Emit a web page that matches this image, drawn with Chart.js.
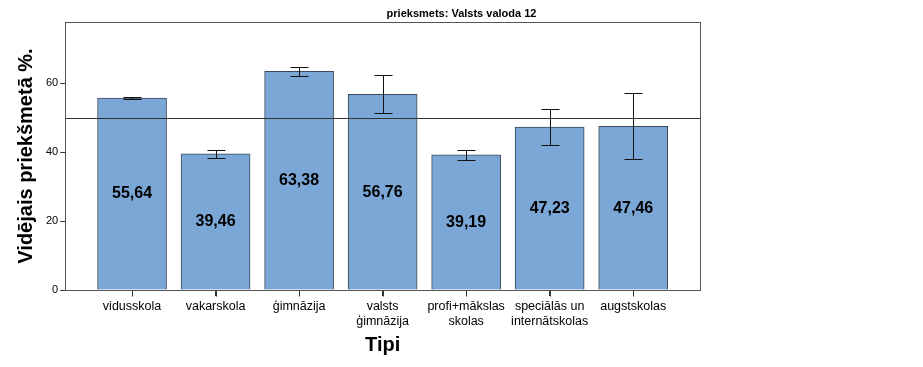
<!DOCTYPE html>
<html><head><meta charset="utf-8">
<script src="https://cdn.jsdelivr.net/npm/chart.js@4/dist/chart.umd.min.js"></script>
<style>html,body{margin:0;padding:0;background:#fff;}#wrap{width:923px;height:367px;}</style>
</head><body><div id="wrap"><canvas id="c" width="923" height="367"></canvas></div>
<script>
const categories = ['vidusskola','vakarskola','ģimnāzija',['valsts','ģimnāzija'],['profi+mākslas','skolas'],['speciālās un','internātskolas'],'augstskolas'];
const means = [55.64, 39.46, 63.38, 56.76, 39.19, 47.23, 47.46];
const errLow = [55.3, 38.35, 62.0, 51.2, 37.8, 41.9, 37.9];
const errHigh = [56.0, 40.65, 64.75, 62.3, 40.6, 52.6, 57.1];
const meanLabels = ['55,64','39,46','63,38','56,76','39,19','47,23','47,46'];
const yTicks = [0, 20, 40, 60];
const refValue = 50;
const chartTitle = 'prieksmets: Valsts valoda 12';

const extras = {
  id: 'extras',
  afterDatasetsDraw(chart) {
    const ctx = chart.ctx, a = chart.chartArea, x = chart.scales.x, y = chart.scales.y;
    ctx.save();
    // x tick marks
    ctx.strokeStyle = '#333'; ctx.lineWidth = 1;
    const by = Math.round(a.bottom) + 0.5;
    categories.forEach((c, i) => {
      const px = Math.round(x.getPixelForValue(i)) + 0.5;
      ctx.beginPath(); ctx.moveTo(px, by); ctx.lineTo(px, by + 6); ctx.stroke();
    });
    // error bars
    ctx.strokeStyle = '#111';
    means.forEach((m, i) => {
      const px = Math.round(x.getPixelForValue(i)) + 0.5;
      const yl = Math.round(y.getPixelForValue(errLow[i])) + 0.5;
      const yh = Math.round(y.getPixelForValue(errHigh[i])) + 0.5;
      ctx.beginPath();
      ctx.moveTo(px, yl); ctx.lineTo(px, yh);
      ctx.moveTo(px - 9, yl); ctx.lineTo(px + 9, yl);
      ctx.moveTo(px - 9, yh); ctx.lineTo(px + 9, yh);
      ctx.stroke();
    });
    // reference line
    const ry = Math.round(y.getPixelForValue(refValue)) + 0.5;
    ctx.strokeStyle = '#333';
    ctx.beginPath(); ctx.moveTo(a.left, ry); ctx.lineTo(a.right, ry); ctx.stroke();
    // frame
    ctx.strokeStyle = '#555';
    ctx.strokeRect(Math.round(a.left) + 0.5, Math.round(a.top) + 0.5, Math.round(a.right - a.left), Math.round(a.bottom - a.top));
    // value labels
    ctx.fillStyle = '#000';
    ctx.font = 'bold 16px "Liberation Sans", Arial, sans-serif';
    ctx.textAlign = 'center'; ctx.textBaseline = 'middle';
    means.forEach((m, i) => {
      ctx.fillText(meanLabels[i], x.getPixelForValue(i), y.getPixelForValue(m / 2));
    });
    // title
    ctx.font = 'bold 11px "Liberation Sans", Arial, sans-serif';
    ctx.fillText(chartTitle, chart.width / 2, 14);
    ctx.restore();
  }
};

new Chart(document.getElementById('c'), {
  type: 'bar',
  data: {
    datasets: [{
      data: means.map((v, i) => ({x: i, y: v})),
      backgroundColor: '#7ba7d7',
      borderColor: '#3b4a5a',
      borderWidth: 1,
      barThickness: 69
    }]
  },
  options: {
    responsive: false,
    animation: false,
    layout: {padding: {left: 10, right: 223, top: 22, bottom: 5}},
    plugins: {
      legend: {display: false},
      tooltip: {enabled: false},
      title: {display: false}
    },
    scales: {
      x: {
        type: 'linear',
        min: -0.8, max: 6.8,
        offset: false,
        afterBuildTicks: (axis) => { axis.ticks = categories.map((_, i) => ({value: i})); },
        ticks: {
          callback: (v) => categories[v],
          color: '#000',
          font: {family: '"Liberation Sans", Arial, sans-serif', size: 12.5},
          maxRotation: 0, autoSkip: false, padding: 3
        },
        grid: {drawOnChartArea: false, drawTicks: true, tickLength: 6, color: '#333', offset: false},
        border: {display: true, color: '#333'},
        title: {
          display: true, text: 'Tipi', color: '#000',
          font: {family: '"Liberation Sans", Arial, sans-serif', size: 20, weight: 'bold'},
          padding: {top: 1, bottom: 5}
        }
      },
      y: {
        min: 0, max: 77.7,
        afterBuildTicks: (axis) => { axis.ticks = yTicks.map(v => ({value: v})); },
        ticks: {
          color: '#000',
          font: {family: '"Liberation Sans", Arial, sans-serif', size: 11},
          padding: 2
        },
        grid: {drawOnChartArea: false, drawTicks: true, tickLength: 5, color: '#333'},
        border: {display: true, color: '#333'},
        title: {
          display: true, text: 'Vidējais priekšmetā %.', color: '#000',
          font: {family: '"Liberation Sans", Arial, sans-serif', size: 20, weight: 'bold'},
          padding: {bottom: 6}
        }
      }
    }
  },
  plugins: [extras]
});
</script></body></html>
